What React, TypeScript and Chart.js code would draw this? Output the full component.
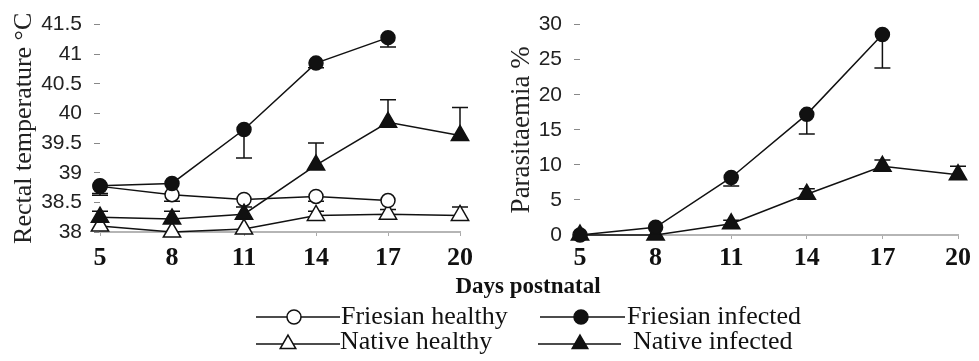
import React, { useEffect, useRef } from "react";
import { Chart, registerables } from "chart.js";

Chart.register(...registerables);

// ---------- data ----------
const days = ["5", "8", "11", "14", "17", "20"];
const tempTicks = [38, 38.5, 39, 39.5, 40, 40.5, 41, 41.5];
const parTicks = [0, 5, 10, 15, 20, 25, 30];

const tempFriesianHealthy = [38.77, 38.63, 38.55, 38.6, 38.53, null];
const tempFriesianHealthyErr = [38.62, 38.52, null, 38.52, null, null];
const tempFriesianInfected = [38.78, 38.82, 39.73, 40.85, 41.28, null];
const tempFriesianInfectedErr = [38.65, null, 39.25, 40.77, 41.12, null];
const tempNativeHealthy = [38.1, 38.0, 38.05, 38.28, 38.3, 38.28];
const tempNativeHealthyErr = [null, null, null, 38.35, 38.38, 38.42];
const tempNativeInfected = [38.25, 38.22, 38.3, 39.13, 39.85, 39.63];
const tempNativeInfectedErr = [38.35, 38.35, 38.42, 39.5, 40.23, 40.1];

const parFriesianInfected = [0, 1.1, 8.2, 17.2, 28.6, null];
const parFriesianInfectedErr = [null, null, 7.0, 14.4, 23.8, null];
const parNativeInfected = [0, 0, 1.6, 5.8, 9.8, 8.6];
const parNativeInfectedErr = [null, null, 2.1, 6.6, 10.7, 9.8];

const legendLabels = ["Friesian healthy", "Friesian infected", "Native healthy", "Native infected"];
const xTitle = "Days postnatal";

// ---------- helpers ----------
const INK = "#111";

const errorBarPlugin = {
  id: "errorBars",
  beforeDatasetsDraw(chart: any) {
    const { ctx } = chart;
    const xs = chart.scales.x;
    const ys = chart.scales.y;
    chart.data.datasets.forEach((ds: any) => {
      const errs = ds.errorTo;
      if (!errs) return;
      ctx.save();
      ctx.strokeStyle = INK;
      ctx.lineWidth = 1.5;
      errs.forEach((e: number | null, i: number) => {
        const v = ds.data[i];
        if (e == null || v == null) return;
        const px = xs.getPixelForValue(i);
        const y0 = ys.getPixelForValue(v);
        const y1 = ys.getPixelForValue(e);
        ctx.beginPath();
        ctx.moveTo(px, y0);
        ctx.lineTo(px, y1);
        ctx.moveTo(px - 8, y1);
        ctx.lineTo(px + 8, y1);
        ctx.stroke();
      });
      ctx.restore();
    });
  },
};

function series(data: (number | null)[], err: (number | null)[], style: string, filled: boolean) {
  const r = style === "triangle" ? 10 : 7;
  return {
    data,
    errorTo: err,
    borderColor: INK,
    borderWidth: 1.5,
    pointStyle: style,
    pointRadius: r,
    pointBorderWidth: 1.5,
    pointBackgroundColor: filled ? INK : "#fff",
    pointBorderColor: INK,
    fill: false,
    tension: 0,
    clip: false,
  };
}

function makeConfig(opts: {
  datasets: any[];
  yTicks: number[];
  title: string;
  titleSize: number;
  titlePad: number;
  xHeight: number;
  xPad: number;
  padRight: number;
}) {
  const { datasets, yTicks, title, titleSize, titlePad, xHeight, xPad, padRight } = opts;
  return {
    type: "line",
    data: { labels: days, datasets },
    plugins: [errorBarPlugin],
    options: {
      responsive: false,
      animation: false,
      events: [],
      layout: { padding: { top: 22, right: padRight, left: 0, bottom: 0 } },
      plugins: { legend: { display: false }, tooltip: { enabled: false } },
      scales: {
        x: {
          type: "category",
          offset: false,
          grid: { display: true, drawOnChartArea: false, tickLength: 4, color: "#aaa" },
          border: { display: true, color: "#b5b5b5", width: 2 },
          ticks: {
            autoSkip: false,
            maxRotation: 0,
            padding: xPad,
            color: INK,
            font: { family: "Liberation Serif", size: 26, weight: "bold" },
          },
          afterFit: (s: any) => {
            s.height = xHeight;
          },
        },
        y: {
          type: "linear",
          min: yTicks[0],
          max: yTicks[yTicks.length - 1],
          afterBuildTicks: (s: any) => {
            s.ticks = yTicks.map((v) => ({ value: v }));
          },
          grid: { display: true, drawOnChartArea: false, tickLength: 6, color: "#888", tickWidth: 1 },
          border: { display: false },
          ticks: {
            padding: 12,
            color: "#222",
            font: { family: "Liberation Sans", size: 21 },
            callback: (v: any) => String(v),
          },
          title: {
            display: true,
            text: title,
            color: "#222",
            font: { family: "Liberation Serif", size: titleSize },
            padding: { top: titlePad, bottom: 0 },
          },
          afterFit: (s: any) => {
            s.width = 100;
          },
        },
      },
    },
  };
}

function ChartCanvas({ config, width, height, left }: any) {
  const ref = useRef<HTMLCanvasElement | null>(null);
  useEffect(() => {
    if (!ref.current) return;
    const chart = new Chart(ref.current, config);
    return () => chart.destroy();
  }, []);
  return (
    <canvas
      ref={ref}
      width={width}
      height={height}
      style={{ position: "absolute", left, top: 0, width, height }}
    />
  );
}

function Marker({ kind, filled, x, y }: { kind: string; filled: boolean; x: number; y: number }) {
  const fill = filled ? INK : "#fff";
  if (kind === "circle") {
    return <circle cx={x} cy={y} r={7} fill={fill} stroke={INK} strokeWidth={1.5} />;
  }
  const r = 9;
  const pts = [
    [x, y - r],
    [x + r * 0.866, y + r * 0.5],
    [x - r * 0.866, y + r * 0.5],
  ]
    .map((p) => p.join(","))
    .join(" ");
  return <polygon points={pts} fill={fill} stroke={INK} strokeWidth={1.5} />;
}

const legendItems = [
  { label: legendLabels[0], kind: "circle", filled: false, x1: 256, x2: 340, mx: 294, ly: 317, tx: 341, ty: 303 },
  { label: legendLabels[1], kind: "circle", filled: true, x1: 540, x2: 625, mx: 581, ly: 317, tx: 627, ty: 303 },
  { label: legendLabels[2], kind: "triangle", filled: false, x1: 256, x2: 340, mx: 288, ly: 344, tx: 340, ty: 328 },
  { label: legendLabels[3], kind: "triangle", filled: true, x1: 538, x2: 621, mx: 580, ly: 344, tx: 633, ty: 328 },
];

export default function App() {
  // earlier datasets are painted on top, so filled (infected) series come first
  const leftConfig = makeConfig({
    datasets: [
      series(tempFriesianInfected, tempFriesianInfectedErr, "circle", true),
      series(tempNativeInfected, tempNativeInfectedErr, "triangle", true),
      series(tempFriesianHealthy, tempFriesianHealthyErr, "circle", false),
      series(tempNativeHealthy, tempNativeHealthyErr, "triangle", false),
    ],
    yTicks: tempTicks,
    title: "Rectal temperature °C",
    titleSize: 26,
    titlePad: 9,
    xHeight: 43,
    xPad: 7,
    padRight: 20,
  });
  const rightConfig = makeConfig({
    datasets: [
      series(parFriesianInfected, parFriesianInfectedErr, "circle", true),
      series(parNativeInfected, parNativeInfectedErr, "triangle", true),
    ],
    yTicks: parTicks,
    title: "Parasitaemia %",
    titleSize: 27,
    titlePad: 26,
    xHeight: 40,
    xPad: 4,
    padRight: 21,
  });

  return (
    <div style={{ position: "absolute", left: 0, top: 0, width: 979, height: 361, background: "#fff", overflow: "hidden" }}>
      <ChartCanvas config={leftConfig} width={480} height={275} left={0} />
      <ChartCanvas config={rightConfig} width={499} height={275} left={480} />
      <div
        style={{
          position: "absolute",
          left: 378,
          width: 300,
          top: 274,
          textAlign: "center",
          fontFamily: "Liberation Serif",
          fontWeight: "bold",
          fontSize: 23,
          lineHeight: "23px",
          color: INK,
          whiteSpace: "nowrap",
        }}
      >
        {xTitle}
      </div>
      <svg width={979} height={361} style={{ position: "absolute", left: 0, top: 0 }}>
        {legendItems.map((it, i) => (
          <g key={i}>
            <line x1={it.x1} x2={it.x2} y1={it.ly} y2={it.ly} stroke={INK} strokeWidth={1.5} />
            <Marker kind={it.kind} filled={it.filled} x={it.mx} y={it.ly} />
          </g>
        ))}
      </svg>
      {legendItems.map((it, i) => (
        <div
          key={i}
          style={{
            position: "absolute",
            left: it.tx,
            top: it.ty,
            fontFamily: "Liberation Serif",
            fontSize: 26,
            lineHeight: "26px",
            color: INK,
            whiteSpace: "nowrap",
          }}
        >
          {it.label}
        </div>
      ))}
    </div>
  );
}
